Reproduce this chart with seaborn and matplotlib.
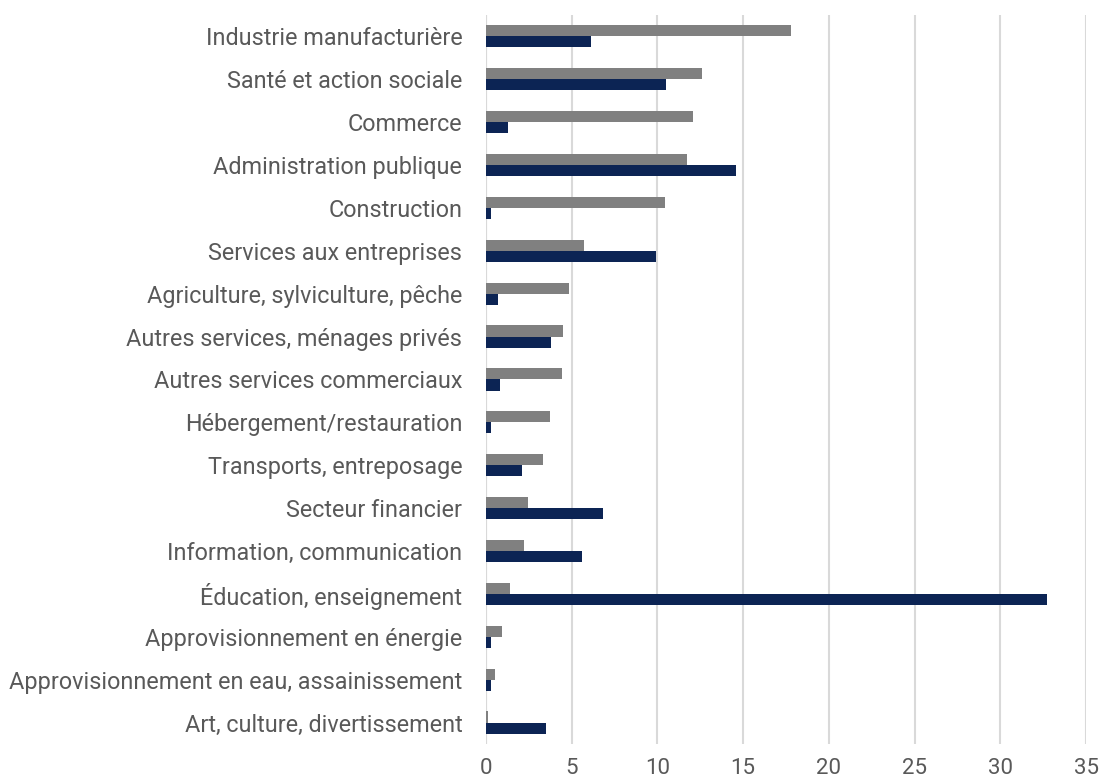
import pandas as pd
import matplotlib
matplotlib.use("Agg")
import matplotlib.pyplot as plt
import seaborn as sns

# Categories, top to bottom
secteurs = [
    "Industrie manufacturière",
    "Santé et action sociale",
    "Commerce",
    "Administration publique",
    "Construction",
    "Services aux entreprises",
    "Agriculture, sylviculture, pêche",
    "Autres services, ménages privés",
    "Autres services commerciaux",
    "Hébergement/restauration",
    "Transports, entreposage",
    "Secteur financier",
    "Information, communication",
    "Éducation, enseignement",
    "Approvisionnement en énergie",
    "Approvisionnement en eau, assainissement",
    "Art, culture, divertissement",
]

# grey series (upper bar of each pair)
serie_grise = [17.8, 12.6, 12.05, 11.75, 10.45, 5.7, 4.85, 4.5, 4.45, 3.75,
               3.35, 2.45, 2.2, 1.4, 0.95, 0.5, 0.12]
# navy series (lower bar of each pair)
serie_bleue = [6.1, 10.5, 1.3, 14.6, 0.3, 9.9, 0.7, 3.8, 0.8, 0.3,
               2.1, 6.8, 5.6, 32.75, 0.3, 0.3, 3.5]

x_ticks = [0, 5, 10, 15, 20, 25, 30, 35]

df = pd.DataFrame({
    "secteur": secteurs * 2,
    "valeur": serie_grise + serie_bleue,
    "serie": ["grise"] * len(secteurs) + ["bleue"] * len(secteurs),
})

sns.set_theme(style="white")
plt.rcParams["font.family"] = ["Roboto", "DejaVu Sans"]

fig = plt.figure(figsize=(11.01, 7.84), dpi=100)
ax = fig.add_axes([0.4414, 0.0510, 0.5450, 0.9300])

sns.barplot(data=df, y="secteur", x="valeur", hue="serie", order=secteurs,
            hue_order=["grise", "bleue"], palette=["#808080", "#002060"],
            width=0.52, gap=0, orient="h", legend=False, ax=ax,
            edgecolor="none", linewidth=0)

ax.set_xlim(0, 35)
ax.set_ylim(len(secteurs) - 0.5, -0.5)
ax.set_xticks(x_ticks)
ax.set_xlabel("")
ax.set_ylabel("")
ax.xaxis.grid(True, color="#d9d9d9", linewidth=1.5)
ax.set_axisbelow(True)
for s in ax.spines.values():
    s.set_visible(False)
ax.axvline(0, color="#d9d9d9", linewidth=1.5, zorder=0.5)
ax.tick_params(axis="y", length=0, pad=17, labelsize=16.8, labelcolor="#595959")
ax.tick_params(axis="x", length=0, pad=10, labelsize=16, labelcolor="#595959")

fig.savefig("out.png", dpi=100)
